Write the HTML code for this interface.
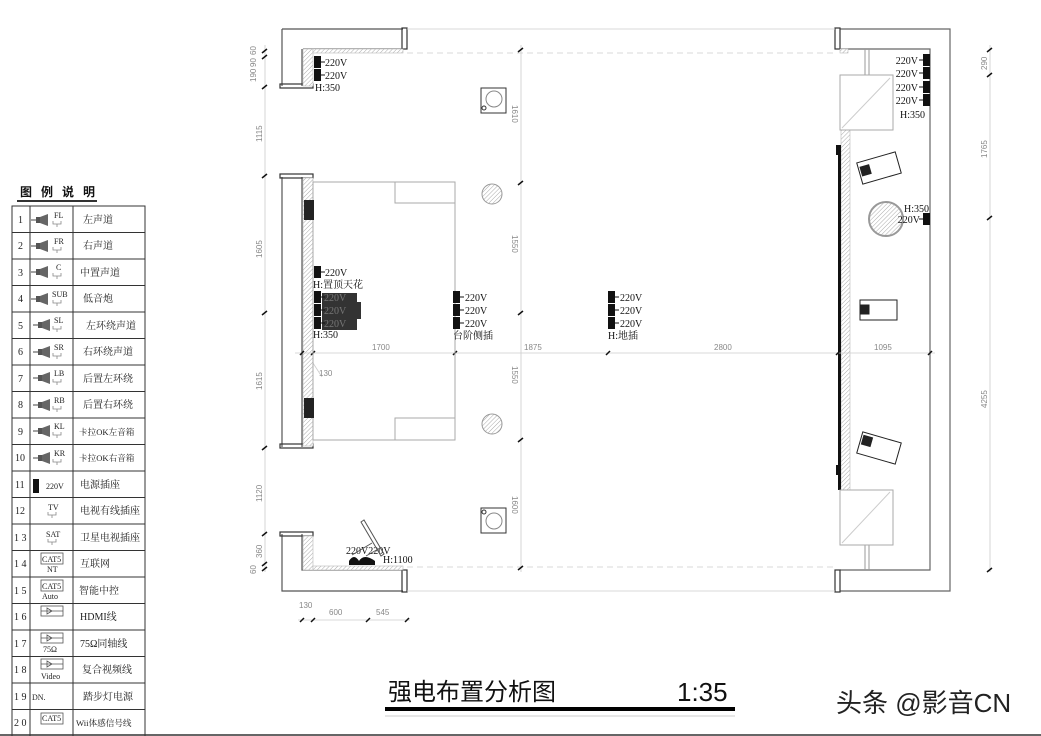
<!DOCTYPE html>
<html><head><meta charset="utf-8"><style>
html,body{margin:0;padding:0;background:#fff;}
body{width:1041px;height:736px;overflow:hidden;position:relative;font-family:"Liberation Serif","Noto Serif CJK SC",serif;}
svg{position:absolute;left:0;top:0;}
.t{font-family:"Liberation Serif","Noto Serif CJK SC",serif;font-size:10px;fill:#111;}
.d{font-family:"Liberation Sans",sans-serif;font-size:8px;fill:#888;}
.lg{font-family:"Liberation Serif","Noto Serif CJK SC",serif;font-size:10px;fill:#222;}
</style></head><body>
<svg width="1041" height="736" viewBox="0 0 1041 736" xmlns="http://www.w3.org/2000/svg">
<defs>
<pattern id="h" width="3" height="3" patternUnits="userSpaceOnUse" patternTransform="rotate(45)"><rect width="3" height="3" fill="#fff"/><line x1="0" y1="0" x2="0" y2="3" stroke="#aaa" stroke-width="1"/></pattern>
<g id="oL"><rect x="0" y="-6" width="7" height="12" fill="#111"/><line x1="7" y1="0" x2="11" y2="0" stroke="#111"/></g>
<g id="oR"><rect x="-7" y="-6" width="7" height="12" fill="#111"/><line x1="-7" y1="0" x2="-11" y2="0" stroke="#111"/></g>
<g id="spk"><line x1="-3" y1="0" x2="2" y2="0" stroke="#444"/><rect x="2" y="-3" width="4" height="6" fill="#555"/><path d="M6,-3 L14,-6 V6 L6,3 Z" fill="#666"/></g>
</defs>
<g fill="none" stroke="#555" stroke-width="1.2">
<path d="M282,29 H403 M303,49 H403 M282,29 V86 M302,49 V86"/>
<rect x="402" y="28" width="5" height="21" stroke="#333"/>
<rect x="280" y="84" width="33" height="4" stroke="#333"/>
<path d="M282,177 V447 M302,177 V447"/>
<rect x="280" y="174" width="33" height="4" stroke="#333"/>
<rect x="280" y="444" width="33" height="4" stroke="#333"/>
<path d="M282,534 V591 H403 M302,534 V570 H403"/>
<rect x="280" y="532" width="33" height="4" stroke="#333"/>
<rect x="402" y="570" width="5" height="22" stroke="#333"/>
<path d="M840,29 H950 V591 H840 M840,49 H930 V570 H840" stroke="#666"/>
<rect x="835" y="28" width="5" height="21" stroke="#333"/>
<rect x="835" y="570" width="5" height="22" stroke="#333"/>
</g>
<rect x="303" y="49" width="10" height="37" fill="url(#h)" stroke="#bbb" stroke-width="0.6"/>
<rect x="313" y="49" width="90" height="4" fill="url(#h)" stroke="#bbb" stroke-width="0.6"/>
<rect x="303" y="178" width="10" height="268" fill="url(#h)" stroke="#bbb" stroke-width="0.6"/>
<rect x="303" y="536" width="10" height="34" fill="url(#h)" stroke="#bbb" stroke-width="0.6"/>
<rect x="313" y="566" width="90" height="4" fill="url(#h)" stroke="#bbb" stroke-width="0.6"/>
<rect x="840" y="49" width="8" height="4" fill="url(#h)" stroke="#bbb" stroke-width="0.6"/>
<rect x="841" y="130" width="9" height="360" fill="url(#h)" stroke="#bbb" stroke-width="0.6"/>
<rect x="838" y="145" width="3" height="345" fill="#111"/>
<rect x="836" y="145" width="3" height="10" fill="#111"/>
<rect x="836" y="465" width="3" height="10" fill="#111"/>
<g fill="none" stroke="#999" stroke-width="1">
<path d="M865,49 V75 M869,49 V75"/>
<rect x="840" y="75" width="53" height="55" stroke="#aaa"/>
<line x1="842" y1="128" x2="890" y2="78" stroke="#ccc"/>
<path d="M865,545 V570 M869,545 V570"/>
<rect x="840" y="490" width="53" height="55" stroke="#aaa"/>
<line x1="842" y1="543" x2="890" y2="492" stroke="#ccc"/>
</g>
<g stroke="#ccc" stroke-width="0.8" fill="none">
<line x1="407" y1="29" x2="835" y2="29"/>
<line x1="407" y1="591" x2="835" y2="591"/>
<line x1="407" y1="53" x2="835" y2="53" stroke-dasharray="6,4"/>
<line x1="407" y1="567" x2="835" y2="567" stroke-dasharray="6,4"/>
<line x1="265" y1="45" x2="265" y2="572"/>
<line x1="521" y1="45" x2="521" y2="572"/>
<line x1="990" y1="45" x2="990" y2="572"/>
<line x1="295" y1="353" x2="935" y2="353"/>
<line x1="298" y1="620" x2="410" y2="620"/>
<line x1="313" y1="363" x2="322" y2="377"/>
</g>
<g stroke="#111" stroke-width="1.5">
<path d="M262,53 l5,-4 M262,59 l5,-4 M262,89 l5,-4 M262,178 l5,-4 M262,315 l5,-4 M262,450 l5,-4 M262,536 l5,-4 M262,566 l5,-4 M262,571 l5,-4"/>
<path d="M518,52 l5,-4 M518,185 l5,-4 M518,315 l5,-4 M518,442 l5,-4 M518,570 l5,-4"/>
<path d="M987,52 l5,-4 M987,77 l5,-4 M987,220 l5,-4 M987,572 l5,-4"/>
<path d="M300,355 l4,-4 M311,355 l4,-4 M453,355 l4,-4 M606,355 l4,-4 M836,355 l4,-4 M928,355 l4,-4"/>
<path d="M300,622 l4,-4 M311,622 l4,-4 M366,622 l4,-4 M405,622 l4,-4"/>
</g>
<g class="d">
<text transform="translate(256,55) rotate(-90)">60</text>
<text transform="translate(256,67) rotate(-90)">90</text>
<text transform="translate(256,82) rotate(-90)">190</text>
<text transform="translate(262,142) rotate(-90)">1115</text>
<text transform="translate(262,258) rotate(-90)">1605</text>
<text transform="translate(262,390) rotate(-90)">1615</text>
<text transform="translate(262,502) rotate(-90)">1120</text>
<text transform="translate(262,558) rotate(-90)">360</text>
<text transform="translate(256,574) rotate(-90)">60</text>
<text transform="translate(512,105) rotate(90)">1610</text>
<text transform="translate(512,235) rotate(90)">1550</text>
<text transform="translate(512,366) rotate(90)">1550</text>
<text transform="translate(512,496) rotate(90)">1600</text>
<text transform="translate(987,70) rotate(-90)">290</text>
<text transform="translate(987,158) rotate(-90)">1765</text>
<text transform="translate(987,408) rotate(-90)">4255</text>
<text x="372" y="350">1700</text>
<text x="524" y="350">1875</text>
<text x="714" y="350">2800</text>
<text x="874" y="350">1095</text>
<text x="319" y="376">130</text>
<text x="299" y="608">130</text>
<text x="329" y="615">600</text>
<text x="376" y="615">545</text>
</g>
<g fill="none" stroke="#aaa" stroke-width="1">
<rect x="313" y="182" width="142" height="258"/>
<rect x="395" y="182" width="60" height="21"/>
<rect x="395" y="418" width="60" height="22"/>
</g>
<rect x="304" y="200" width="10" height="20" fill="#222"/>
<rect x="304" y="398" width="10" height="20" fill="#222"/>
<circle cx="492" cy="194" r="10" fill="url(#h)" stroke="#999"/>
<circle cx="492" cy="424" r="10" fill="url(#h)" stroke="#999"/>
<circle cx="886" cy="219" r="17" fill="url(#h)" stroke="#999" stroke-width="2"/>
<g fill="none" stroke="#333">
<rect x="481" y="88" width="25" height="25"/><circle cx="494" cy="99" r="8" stroke="#888"/><circle cx="484" cy="108" r="2"/>
<rect x="481" y="508" width="25" height="25"/><circle cx="494" cy="521" r="8" stroke="#888"/><circle cx="484" cy="512" r="2"/>
</g>
<g fill="#fff" stroke="#222" stroke-width="1">
<g transform="translate(879,168) rotate(-16)"><rect x="-20" y="-11" width="40" height="22"/><rect x="-18" y="-6" width="9" height="9" fill="#222"/></g>
<rect x="860" y="300" width="37" height="20"/><rect x="861" y="305" width="8" height="9" fill="#222"/>
<g transform="translate(879,448) rotate(16)"><rect x="-20" y="-11" width="40" height="22"/><rect x="-18" y="-8" width="9" height="9" fill="#222"/></g>
</g>
<rect x="322" y="293" width="35" height="37" fill="#333"/>
<rect x="357" y="302" width="4" height="17" fill="#333"/>
<use href="#oL" x="314" y="62"/><use href="#oL" x="314" y="75"/>
<use href="#oL" x="314" y="272"/>
<use href="#oL" x="314" y="297"/><use href="#oL" x="314" y="310"/><use href="#oL" x="314" y="323"/>
<use href="#oL" x="453" y="297"/><use href="#oL" x="453" y="310"/><use href="#oL" x="453" y="323"/>
<use href="#oL" x="608" y="297"/><use href="#oL" x="608" y="310"/><use href="#oL" x="608" y="323"/>
<use href="#oR" x="930" y="60"/><use href="#oR" x="930" y="73"/><use href="#oR" x="930" y="87"/><use href="#oR" x="930" y="100"/>
<use href="#oR" x="930" y="219"/>
<g class="t">
<text x="325" y="66">220V</text><text x="325" y="79">220V</text><text x="315" y="91">H:350</text>
<text x="325" y="276">220V</text><text x="313" y="288">H:置顶天花</text>
<text x="324" y="301" fill="#777">220V</text><text x="324" y="314" fill="#777">220V</text><text x="324" y="327" fill="#777">220V</text>
<text x="313" y="338">H:350</text>
<text x="465" y="301">220V</text><text x="465" y="314">220V</text><text x="465" y="327">220V</text>
<text x="453" y="339">台阶侧插</text>
<text x="620" y="301">220V</text><text x="620" y="314">220V</text><text x="620" y="327">220V</text>
<text x="608" y="339">H:地插</text>
<text x="918" y="64" text-anchor="end">220V</text><text x="918" y="77" text-anchor="end">220V</text>
<text x="918" y="91" text-anchor="end">220V</text><text x="918" y="104" text-anchor="end">220V</text>
<text x="900" y="118">H:350</text>
<text x="904" y="212">H:350</text><text x="920" y="223" text-anchor="end">220V</text>
<text x="346" y="554">220V220V</text><text x="383" y="563">H:1100</text>
</g>
<g stroke="#555" fill="none">
<path d="M361,522 l3,-2 l20,34 l-3,2 z"/>
<path d="M352,555 l20,-12 M366,556 l14,-8"/>
</g>
<path d="M349,561 q5,-8 10,0 q5,-8 16,0 v4 h-26 z" fill="#111"/>
<!-- legend -->
<text x="20" y="196" style="font-family:'Liberation Sans','Noto Sans CJK SC',sans-serif;font-size:12px;font-weight:bold;letter-spacing:9px" fill="#111">图例说明</text>
<line x1="17" y1="201" x2="97" y2="201" stroke="#333" stroke-width="2"/>
<g stroke="#333" stroke-width="1" fill="none">
<rect x="12" y="206" width="133" height="540"/>
<line x1="30" y1="206" x2="30" y2="736"/>
<line x1="73" y1="206" x2="73" y2="736"/>
<path d="M12,232.5 H145 M12,259 H145 M12,285.5 H145 M12,312 H145 M12,338.5 H145 M12,365 H145 M12,391.5 H145 M12,418 H145 M12,444.5 H145 M12,471 H145 M12,497.5 H145 M12,524 H145 M12,550.5 H145 M12,577 H145 M12,603.5 H145 M12,630 H145 M12,656.5 H145 M12,683 H145 M12,709.5 H145"/>
</g>
<use href="#spk" x="34" y="220"/><use href="#spk" x="34" y="246"/><use href="#spk" x="34" y="272"/><use href="#spk" x="34" y="299"/>
<use href="#spk" x="36" y="325"/><use href="#spk" x="36" y="352"/><use href="#spk" x="36" y="378"/><use href="#spk" x="36" y="405"/>
<use href="#spk" x="36" y="431"/><use href="#spk" x="36" y="458"/>
<g stroke="#888" fill="none" stroke-width="0.8">
<path d="M53,221 v3 h8 v-3 M57,224 v3 M53,247 v3 h8 v-3 M57,250 v3 M53,273 v3 h8 v-3 M57,276 v3 M53,300 v3 h8 v-3 M57,303 v3 M53,326 v3 h8 v-3 M57,329 v3 M53,353 v3 h8 v-3 M57,356 v3 M53,379 v3 h8 v-3 M57,382 v3 M53,406 v3 h8 v-3 M57,409 v3 M53,432 v3 h8 v-3 M57,435 v3 M53,459 v3 h8 v-3 M57,462 v3 M48,512 v3 h8 v-3 M52,515 v3 M48,539 v3 h8 v-3 M52,542 v3"/>
</g>
<rect x="33" y="479" width="6" height="14" fill="#111"/>
<g stroke="#555" fill="none" stroke-width="0.8">
<rect x="41" y="553" width="22" height="11"/><rect x="41" y="580" width="22" height="11"/>
<rect x="41" y="606" width="22" height="10"/><rect x="41" y="633" width="22" height="10"/><rect x="41" y="659" width="22" height="10"/>
<rect x="41" y="713" width="22" height="11"/>
<path d="M41,611 h22 M47,608 l5,3 l-5,3 z M41,638 h22 M47,635 l5,3 l-5,3 z M41,664 h22 M47,661 l5,3 l-5,3 z"/>
</g>
<g class="lg" font-size="9">
<text x="18" y="223">1</text><text x="18" y="249">2</text><text x="18" y="276">3</text><text x="18" y="302">4</text>
<text x="18" y="329">5</text><text x="18" y="355">6</text><text x="18" y="382">7</text><text x="18" y="408">8</text>
<text x="18" y="435">9</text><text x="15" y="461">10</text><text x="15" y="488">11</text><text x="15" y="514">12</text>
<text x="14" y="541">1 3</text><text x="14" y="567">1 4</text><text x="14" y="594">1 5</text><text x="14" y="620">1 6</text>
<text x="14" y="647">1 7</text><text x="14" y="673">1 8</text><text x="14" y="700">1 9</text><text x="14" y="726">2 0</text>
<text x="54" y="218" font-size="8">FL</text><text x="54" y="244" font-size="8">FR</text><text x="56" y="270" font-size="8">C</text><text x="52" y="297" font-size="8">SUB</text>
<text x="54" y="323" font-size="8">SL</text><text x="54" y="350" font-size="8">SR</text><text x="54" y="376" font-size="8">LB</text><text x="54" y="403" font-size="8">RB</text>
<text x="54" y="429" font-size="8">KL</text><text x="54" y="456" font-size="8">KR</text>
<text x="46" y="489" font-size="8">220V</text><text x="48" y="510" font-size="8">TV</text><text x="46" y="537" font-size="8">SAT</text>
<text x="42" y="562" font-size="8">CAT5</text><text x="47" y="572" font-size="8">NT</text><text x="42" y="589" font-size="8">CAT5</text><text x="42" y="599" font-size="8">Auto</text>
<text x="43" y="652" font-size="8">75Ω</text><text x="41" y="679" font-size="8">Video</text><text x="32" y="700" font-size="8">DN.</text><text x="42" y="721" font-size="8">CAT5</text>
<text x="83" y="223">左声道</text><text x="83" y="249">右声道</text><text x="80" y="276">中置声道</text><text x="83" y="302">低音炮</text>
<text x="86" y="329">左环绕声道</text><text x="83" y="355">右环绕声道</text><text x="83" y="382">后置左环绕</text><text x="83" y="408">后置右环绕</text>
<text x="79" y="435" font-size="8.6">卡拉OK左音箱</text><text x="79" y="461" font-size="8.6">卡拉OK右音箱</text><text x="80" y="488">电源插座</text><text x="80" y="514">电视有线插座</text>
<text x="80" y="541">卫星电视插座</text><text x="80" y="567">互联网</text><text x="79" y="594">智能中控</text><text x="80" y="620">HDMI线</text>
<text x="80" y="647">75Ω同轴线</text><text x="82" y="673">复合视频线</text><text x="83" y="700">踏步灯电源</text><text x="76" y="726" font-size="8.6">Wii体感信号线</text>
</g>
<text x="388" y="700" style="font-family:'Liberation Sans','Noto Sans CJK SC',sans-serif;font-size:24px" fill="#111">强电布置分析图</text>
<text x="677" y="701" style="font-family:'Liberation Sans',sans-serif;font-size:26px" fill="#111">1:35</text>
<rect x="385" y="707" width="350" height="4" fill="#000"/>
<line x1="385" y1="716" x2="735" y2="716" stroke="#ccc"/>
<text x="836" y="712" style="font-family:'Liberation Sans','Noto Sans CJK SC',sans-serif;font-size:26px" fill="#222">头条 @影音CN</text>
<line x1="0" y1="735" x2="1041" y2="735" stroke="#333" stroke-width="1.5"/>
</svg>
</body></html>
